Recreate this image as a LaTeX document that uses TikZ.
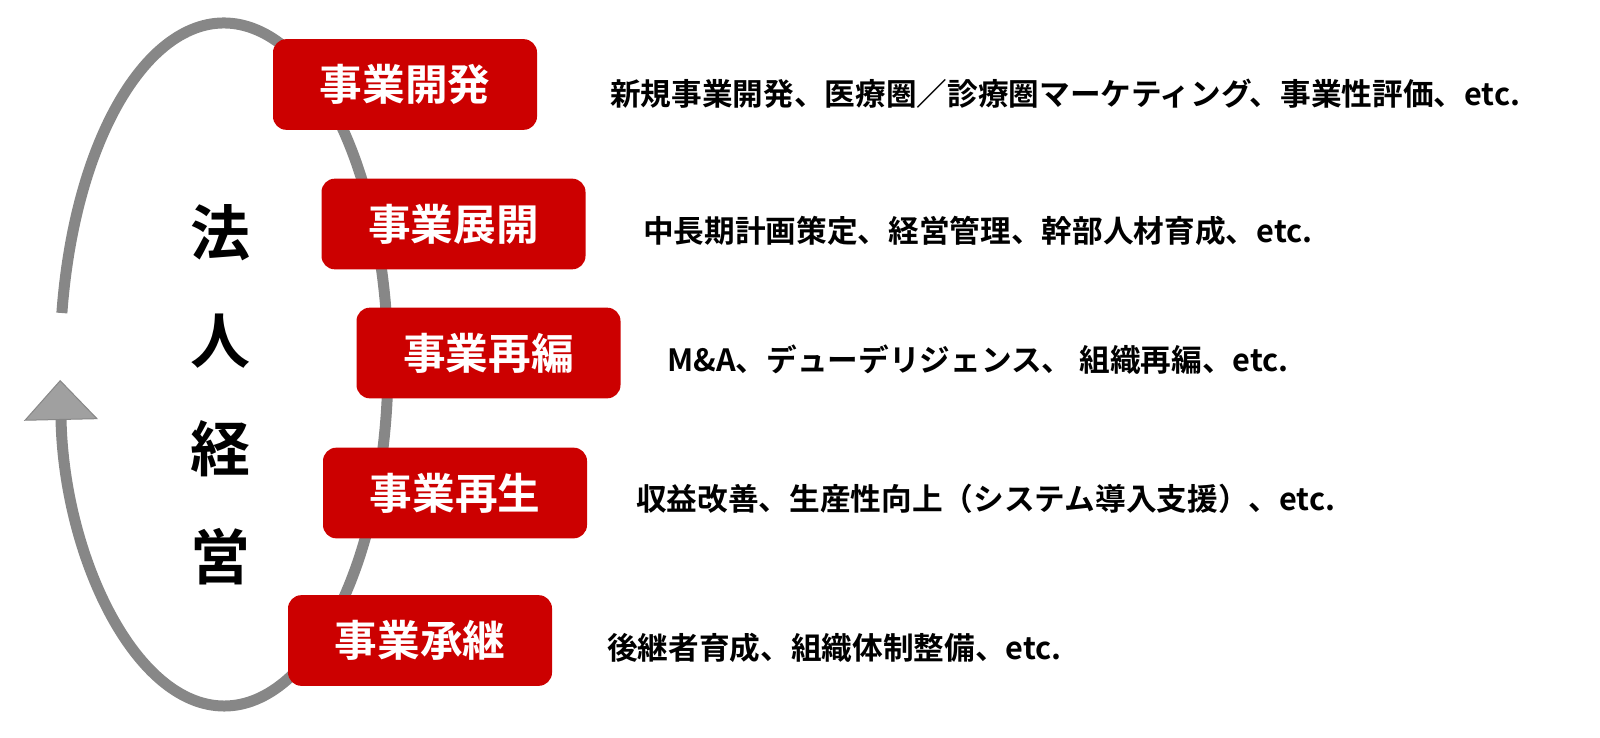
\documentclass[tikz,border=0pt]{standalone}
\usepackage{fontspec}
\setmainfont{Noto Sans CJK JP}[BoldFont={Noto Sans CJK JP Bold}]
\usetikzlibrary{arrows.meta}

\definecolor{bizred}{HTML}{CC0000}
\definecolor{loopgray}{HTML}{878787}
\definecolor{tipgray}{HTML}{A0A0A0}

\tikzset{
	stage/.style={fill=bizred, rounded corners=10pt, minimum width=198pt, minimum height=68pt,
		inner sep=0pt, text=white, font=\bfseries\fontsize{32}{32}\selectfont},
	detail/.style={anchor=west, inner sep=0pt, font=\bfseries\fontsize{23}{23}\selectfont},
}

\begin{document}
\begin{tikzpicture}[x=0.75pt,y=-0.75pt]
	\useasboundingbox (0,0) rectangle (1600,738);

	% the loop, open on the left, arrow pointing up
	\draw[loopgray, line width=8.25pt,
		-{Triangle[width=55.5pt,length=30pt,fill=tipgray,line width=0.75pt]}]
		(61.87,313.02) arc[x radius=164, y radius=341.5, start angle=-171.33, end angle=177.4];

	\node[align=center, font=\bfseries\fontsize{45}{81}\selectfont] (corp) at (220,395) {法\\人\\経\\営};

	\node[stage] (dev) at (405,84.5) {事業開発};
	\node[stage] (expand) at (453.5,224) {事業展開};
	\node[stage] (reorg) at (488.5,353) {事業再編};
	\node[stage] (revive) at (455,493) {事業再生};
	\node[stage] (succ) at (420,640.5) {事業承継};

	\node[detail] (devtxt) at (610,94) {新規事業開発、医療圏／診療圏マーケティング、事業性評価、etc.};
	\node[detail] (expandtxt) at (643,231) {中長期計画策定、経営管理、幹部人材育成、etc.};
	\node[detail] (reorgtxt) at (667,360) {M\&A、デューデリジェンス、 組織再編、etc.};
	\node[detail] (revivetxt) at (636,499) {収益改善、生産性向上（システム導入支援）、etc.};
	\node[detail] (succtxt) at (607,648) {後継者育成、組織体制整備、etc.};
\end{tikzpicture}
\end{document}
